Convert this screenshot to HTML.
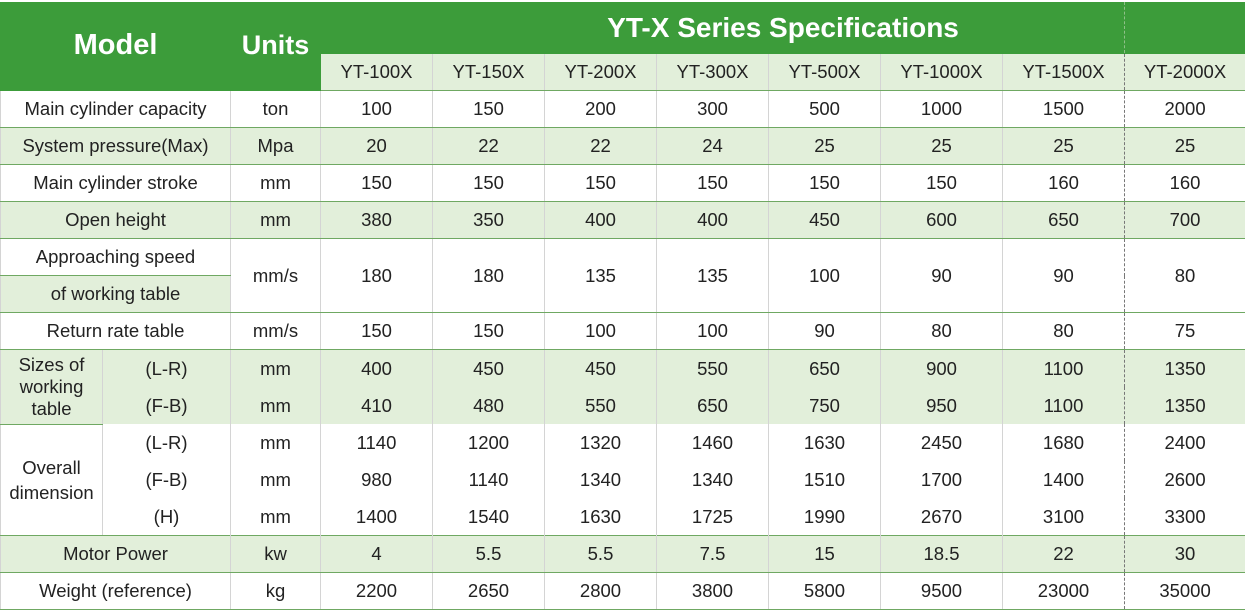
<!DOCTYPE html>
<html><head><meta charset="utf-8"><style>
html,body{margin:0;padding:0;background:#fff;width:1245px;height:611px;overflow:hidden}
table{position:absolute;left:0;top:2px;border-collapse:collapse;table-layout:fixed;width:1245px;font-family:"Liberation Sans",sans-serif;font-size:18.5px;color:#222}
td{text-align:center;vertical-align:middle;padding:0;border-top:1px solid #6fa862;border-bottom:1px solid #6fa862;border-left:1px solid #d4d4d4;border-right:1px solid #d4d4d4;height:36px;white-space:nowrap}
td.nb{height:37px}
.g{background:#e2efda}
.h{background:#3c9c3a;color:#fff;font-weight:bold;border-color:#3c9c3a}
.hl{border-left:1px solid #e8f2e0}
.d{border-right:1px dashed #777}
.dl{border-left:1px dashed #777}
.nb{border-top:none;border-bottom:none}
#dash{position:absolute;left:1124px;top:2px;height:51px;border-left:1px dashed #8fbf88}
</style></head><body>
<table>
<colgroup><col style="width:102px"><col style="width:128px"><col style="width:90px"><col style="width:112px"><col style="width:112px"><col style="width:112px"><col style="width:112px"><col style="width:112px"><col style="width:122px"><col style="width:122px"><col style="width:121px"></colgroup>
<tr style="height:51px"><td class="h" colspan="2" rowspan="2" style="font-size:29px;padding-bottom:2px">Model</td><td class="h hl" rowspan="2" style="font-size:27px;padding-bottom:2px">Units</td><td class="h" colspan="8" style="font-size:28px;height:50px">YT-X Series Specifications</td></tr>
<tr><td class="g">YT-100X</td><td class="g">YT-150X</td><td class="g">YT-200X</td><td class="g">YT-300X</td><td class="g">YT-500X</td><td class="g">YT-1000X</td><td class="g d">YT-1500X</td><td class="g dl">YT-2000X</td></tr>
<tr><td colspan="2">Main cylinder capacity</td><td>ton</td><td>100</td><td>150</td><td>200</td><td>300</td><td>500</td><td>1000</td><td class="d">1500</td><td class="dl">2000</td></tr>
<tr class="g"><td colspan="2">System pressure(Max)</td><td>Mpa</td><td>20</td><td>22</td><td>22</td><td>24</td><td>25</td><td>25</td><td class="d">25</td><td class="dl">25</td></tr>
<tr><td colspan="2">Main cylinder stroke</td><td>mm</td><td>150</td><td>150</td><td>150</td><td>150</td><td>150</td><td>150</td><td class="d">160</td><td class="dl">160</td></tr>
<tr class="g"><td colspan="2">Open height</td><td>mm</td><td>380</td><td>350</td><td>400</td><td>400</td><td>450</td><td>600</td><td class="d">650</td><td class="dl">700</td></tr>
<tr><td colspan="2">Approaching speed</td><td rowspan="2">mm/s</td><td rowspan="2">180</td><td rowspan="2">180</td><td rowspan="2">135</td><td rowspan="2">135</td><td rowspan="2">100</td><td rowspan="2">90</td><td rowspan="2" class="d">90</td><td rowspan="2" class="dl">80</td></tr>
<tr><td colspan="2" class="g">of working table</td></tr>
<tr><td colspan="2">Return rate table</td><td>mm/s</td><td>150</td><td>150</td><td>100</td><td>100</td><td>90</td><td>80</td><td class="d">80</td><td class="dl">75</td></tr>
<tr class="g"><td rowspan="2" style="line-height:22px">Sizes of<br>working<br>table</td><td class="nb">(L-R)</td><td class="nb">mm</td><td class="nb">400</td><td class="nb">450</td><td class="nb">450</td><td class="nb">550</td><td class="nb">650</td><td class="nb">900</td><td class="nb d">1100</td><td class="nb dl">1350</td></tr>
<tr class="g"><td class="nb">(F-B)</td><td class="nb">mm</td><td class="nb">410</td><td class="nb">480</td><td class="nb">550</td><td class="nb">650</td><td class="nb">750</td><td class="nb">950</td><td class="nb d">1100</td><td class="nb dl">1350</td></tr>
<tr><td rowspan="3" style="line-height:25px">Overall<br>dimension</td><td class="nb">(L-R)</td><td class="nb">mm</td><td class="nb">1140</td><td class="nb">1200</td><td class="nb">1320</td><td class="nb">1460</td><td class="nb">1630</td><td class="nb">2450</td><td class="nb d">1680</td><td class="nb dl">2400</td></tr>
<tr><td class="nb">(F-B)</td><td class="nb">mm</td><td class="nb">980</td><td class="nb">1140</td><td class="nb">1340</td><td class="nb">1340</td><td class="nb">1510</td><td class="nb">1700</td><td class="nb d">1400</td><td class="nb dl">2600</td></tr>
<tr><td class="nb">(H)</td><td class="nb">mm</td><td class="nb">1400</td><td class="nb">1540</td><td class="nb">1630</td><td class="nb">1725</td><td class="nb">1990</td><td class="nb">2670</td><td class="nb d">3100</td><td class="nb dl">3300</td></tr>
<tr class="g"><td colspan="2">Motor Power</td><td>kw</td><td>4</td><td>5.5</td><td>5.5</td><td>7.5</td><td>15</td><td>18.5</td><td class="d">22</td><td class="dl">30</td></tr>
<tr><td colspan="2">Weight (reference)</td><td>kg</td><td>2200</td><td>2650</td><td>2800</td><td>3800</td><td>5800</td><td>9500</td><td class="d">23000</td><td class="dl">35000</td></tr>
</table>
<div id="dash"></div>
</body></html>
